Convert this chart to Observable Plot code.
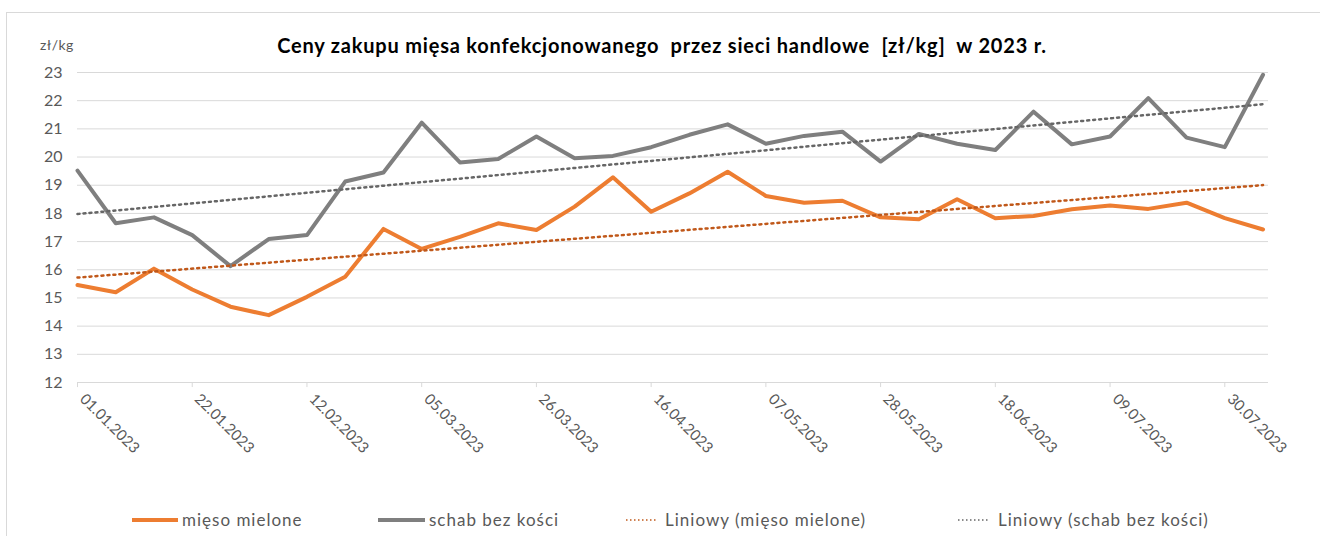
<!DOCTYPE html>
<html><head><meta charset="utf-8">
<script src="https://cdn.jsdelivr.net/npm/d3@7"></script>
<script src="https://cdn.jsdelivr.net/npm/@observablehq/plot@0.6"></script>
<style>
body{margin:0;background:#fff;font-family:Lato,"Open Sans",sans-serif;}
#wrap{position:relative;width:1320px;height:536px;overflow:hidden;background:#fff;}
#frame{position:absolute;left:6px;top:12px;width:1400px;height:600px;border:1px solid #d9d9d9;}
#title{position:absolute;top:33px;left:0;width:1324px;text-align:center;font-weight:bold;font-size:20px;letter-spacing:0.8px;color:#000;white-space:pre;line-height:24px;}
#unit{position:absolute;left:40px;top:36px;font-size:14px;letter-spacing:0.5px;color:#595959;line-height:18px;}
#chart{position:absolute;left:0;top:0;}
.leg{position:absolute;top:509px;font-size:17px;letter-spacing:1px;color:#595959;white-space:pre;line-height:22px;}
.sw{position:absolute;top:510px;}
</style></head>
<body>
<div id="wrap">
  <div id="frame"></div>
  <div id="chart"></div>
  <div id="title">Ceny zakupu mięsa konfekcjonowanego  przez sieci handlowe  [zł/kg]  w 2023 r.</div>
  <div id="unit">zł/kg</div>
</div>
<script>
// ---- data ----
const dates = ["2023-01-01","2023-01-08","2023-01-15","2023-01-22","2023-01-29","2023-02-05","2023-02-12","2023-02-19","2023-02-26","2023-03-05","2023-03-12","2023-03-19","2023-03-26","2023-04-02","2023-04-09","2023-04-16","2023-04-23","2023-04-30","2023-05-07","2023-05-14","2023-05-21","2023-05-28","2023-06-04","2023-06-11","2023-06-18","2023-06-25","2023-07-02","2023-07-09","2023-07-16","2023-07-23","2023-07-30","2023-08-06"];
const miesoMielone = [15.46,15.20,16.04,15.30,14.69,14.39,15.04,15.75,17.45,16.74,17.17,17.65,17.41,18.24,19.28,18.06,18.71,19.48,18.62,18.38,18.45,17.86,17.79,18.50,17.83,17.91,18.15,18.28,18.16,18.38,17.83,17.43];
const schabBezKosci = [19.52,17.65,17.86,17.23,16.13,17.09,17.23,19.13,19.45,21.22,19.81,19.93,20.73,19.96,20.04,20.35,20.79,21.16,20.47,20.75,20.90,19.84,20.82,20.47,20.25,21.61,20.45,20.73,22.09,20.69,20.35,22.92];
const xTickLabels = ["01.01.2023","22.01.2023","12.02.2023","05.03.2023","26.03.2023","16.04.2023","07.05.2023","28.05.2023","18.06.2023","09.07.2023","30.07.2023"];
const yTicks = [12,13,14,15,16,17,18,19,20,21,22,23];
const seriesNames = ["mięso mielone","schab bez kości"];
const trendNames = ["Liniowy (mięso mielone)","Liniowy (schab bez kości)"];

// ---- build ----
const ORANGE = "#ed7d31", GREY = "#7f7f7f", ORANGE_T = "#c0581a", GREY_T = "#666666";
const parse = s => new Date(s + "T00:00:00Z");
const mieso = dates.map((d,i) => ({date: parse(d), v: miesoMielone[i]}));
const schab = dates.map((d,i) => ({date: parse(d), v: schabBezKosci[i]}));
const tickDates = xTickLabels.map(s => { const [d,m,y] = s.split("."); return parse(`${y}-${m}-${d}`); });
const FONT = "Lato, 'Open Sans', sans-serif";

const chart = Plot.plot({
  width: 1320, height: 480,
  marginLeft: 77, marginRight: 52, marginTop: 72, marginBottom: 98,
  x: {type: "utc", domain: [parse("2023-01-01"), parse("2023-08-07")], axis: null},
  y: {domain: [12, 23], axis: null},
  style: {fontFamily: FONT, background: "transparent", overflow: "visible"},
  marks: [
    Plot.ruleY(yTicks, {y: d => d, stroke: "#d9d9d9", strokeWidth: 1}),
    Plot.axisY({ticks: yTicks, tickSize: 0, tickPadding: 15, fontSize: 16, color: "#595959", label: null}),
    Plot.ruleX(tickDates, {x: d => d, y1: 12, y2: 11.82, stroke: "#d9d9d9", clip: false}),
    Plot.text(tickDates, {x: d => d, y: 12, text: (d,i) => xTickLabels[i], rotate: 45, textAnchor: "start", lineAnchor: "middle", dx: 5, dy: 14, fill: "#595959", fontSize: 15}),
    Plot.line(mieso, {x: "date", y: "v", stroke: ORANGE, strokeWidth: 4, strokeLinejoin: "round"}),
    Plot.line(schab, {x: "date", y: "v", stroke: GREY, strokeWidth: 4, strokeLinejoin: "round"}),
    Plot.linearRegressionY(mieso, {x: "date", y: "v", ci: 0, stroke: ORANGE_T, strokeWidth: 2.5, strokeDasharray: "2,4"}),
    Plot.linearRegressionY(schab, {x: "date", y: "v", ci: 0, stroke: GREY_T, strokeWidth: 2.5, strokeDasharray: "2,4"})
  ]
});
document.getElementById("chart").appendChild(chart);

// ---- legend ----
const legend = [
  {label: seriesNames[0], color: ORANGE, dash: null, left: 132, w: 46, textLeft: 182},
  {label: seriesNames[1], color: GREY, dash: null, left: 378, w: 47, textLeft: 429},
  {label: trendNames[0], color: ORANGE_T, dash: "1.5,2.5", left: 626, w: 30, textLeft: 665},
  {label: trendNames[1], color: GREY_T, dash: "1.5,2.5", left: 958, w: 30, textLeft: 998}
];
const wrap = document.getElementById("wrap");
legend.forEach(it => {
  const ns = "http://www.w3.org/2000/svg";
  const svg = document.createElementNS(ns, "svg");
  svg.setAttribute("width", it.w); svg.setAttribute("height", 20);
  svg.setAttribute("class", "sw");
  svg.style.left = it.left + "px";
  const ln = document.createElementNS(ns, "line");
  ln.setAttribute("x1", 0); ln.setAttribute("x2", it.w);
  ln.setAttribute("y1", 10); ln.setAttribute("y2", 10);
  ln.setAttribute("stroke", it.color);
  ln.setAttribute("stroke-width", it.dash ? 1.5 : 4);
  if (it.dash) ln.setAttribute("stroke-dasharray", it.dash);
  svg.appendChild(ln);
  wrap.appendChild(svg);
  const t = document.createElement("div");
  t.className = "leg"; t.textContent = it.label; t.style.left = it.textLeft + "px";
  wrap.appendChild(t);
});
</script>
</body></html>
